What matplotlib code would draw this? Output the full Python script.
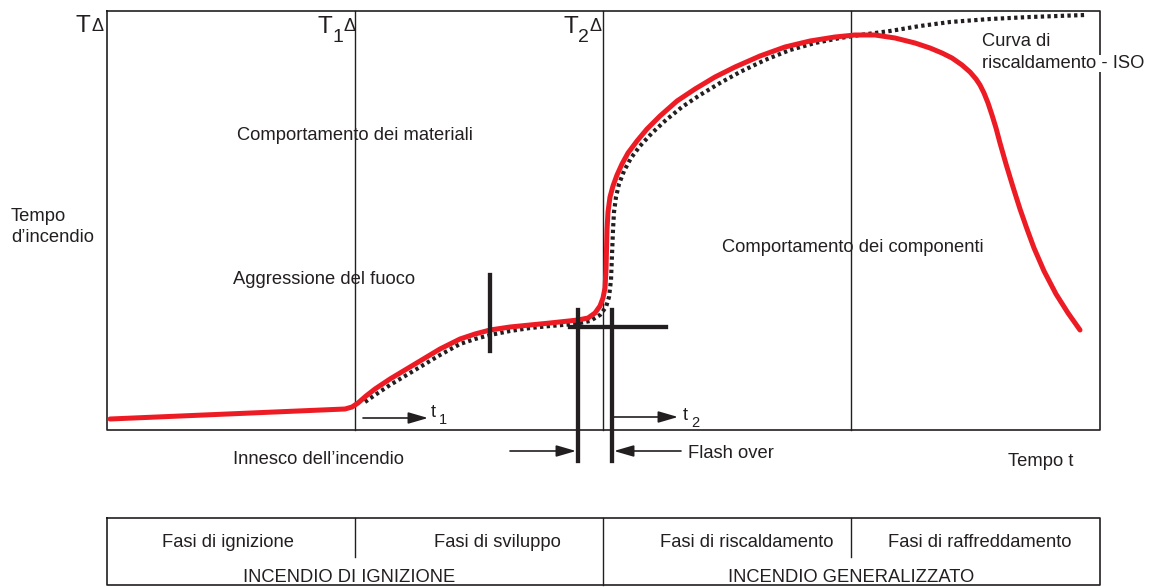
import matplotlib
matplotlib.use("Agg")
import matplotlib.pyplot as plt

# Red curve (actual fire), in picture units
red_x = [110, 345, 352, 358, 366, 375, 390, 405, 420, 440, 460, 475, 490, 510, 530, 550, 578, 588, 595,
         600, 603, 605, 606, 606.5, 607, 608, 610, 613, 617, 622, 628, 637, 647, 660, 677, 695, 715, 735,
         760, 785, 810, 835, 855, 875, 895, 915, 930, 942, 952, 962, 970, 976, 980, 984, 988, 992, 996,
         1000, 1006, 1013, 1020, 1027, 1034, 1044, 1056, 1068, 1080]
red_y = [419, 409, 407, 403, 396, 389, 379, 370, 361, 349, 339, 334, 330, 327, 325, 323, 320, 318, 313,
         306, 298, 288, 270, 250, 230, 212, 197, 186, 175, 164, 153, 141, 129, 116, 101, 89, 77, 67,
         56, 47, 41, 37, 35, 35, 38, 43, 48, 53, 58, 65, 72, 79, 85, 93, 103, 115, 128,
         143, 164, 187, 209, 229, 248, 271, 294, 313, 330]

# Dotted ISO heating curve
iso_x = [365, 375, 390, 405, 420, 440, 460, 475, 490, 510, 530, 550, 575, 590, 600, 606, 609, 611, 612,
         613, 614, 616, 619, 624, 631, 640, 652, 666, 682, 700, 720, 740, 765, 790, 815, 840, 860, 890,
         920, 950, 990, 1030, 1085]
iso_y = [402, 395, 385, 376, 367, 355, 344, 339, 335, 331, 328, 326, 324, 321, 315, 307, 297, 280, 255,
         230, 212, 197, 184, 171, 158, 146, 133, 120, 107, 95, 83, 72, 60, 50, 43, 38, 35, 31,
         26, 22, 19, 17, 15]

phase_x = [107, 355, 603, 851, 1100]
phase_labels = ["Fasi di ignizione", "Fasi di sviluppo", "Fasi di riscaldamento", "Fasi di raffreddamento"]
fire_labels = ["INCENDIO DI IGNIZIONE", "INCENDIO GENERALIZZATO"]

FAM = ['Liberation Sans', 'DejaVu Sans']
fs = 13.2
big, sub, dl = 17.5, 14, 13
plt.rcParams['font.family'] = FAM

W, H = 1153, 587
fig = plt.figure(figsize=(W / 100, H / 100), dpi=100)
ax = fig.add_axes([0, 0, 1, 1])
ax.set_xlim(0, W)
ax.set_ylim(H, 0)
ax.axis('off')

K = '#231f20'

# main box
top, bot = 11, 430
ax.plot([phase_x[0], phase_x[-1], phase_x[-1], phase_x[0], phase_x[0]], [top, top, bot, bot, top],
        color=K, lw=1.2)
for x in phase_x[1:-1]:
    ax.plot([x, x], [top, bot], color=K, lw=1.0)

# curves
ax.plot(iso_x, iso_y, color=K, lw=3.0, linestyle=(0, (0.8, 0.8)), zorder=3)
ax.plot(red_x, red_y, color='#ed1c24', lw=3.6, solid_capstyle='round', solid_joinstyle='round', zorder=4)

# thick markers
LW = 3.1
ax.plot([490, 490], [275, 351], color=K, lw=LW, zorder=5)
ax.plot([578, 578], [310, 461], color=K, lw=LW, zorder=5)
ax.plot([612, 612], [310, 461], color=K, lw=LW, zorder=5)
ax.plot([570, 666], [327, 327], color=K, lw=LW, zorder=5)

# arrows
def arrow(x0, y0, x1, y1):
    ax.annotate('', xy=(x1, y1), xytext=(x0, y0),
                arrowprops=dict(arrowstyle='-|>,head_length=1.2,head_width=0.35', color=K, lw=1.2,
                                shrinkA=0, shrinkB=0))

arrow(363, 418, 428, 418)
arrow(614, 417, 678, 417)
arrow(510, 451, 576, 451)
arrow(681, 451, 614, 451)

# axis symbols
def tx(x, y, s, size, **kw):
    ax.text(x, y, s, fontsize=size, va='baseline', ha='left', color=K, **kw)

tx(75, 32, "T", big)
tx(91, 31, "Δ", dl)
tx(317, 33, "T", big)
tx(332, 42, "1", sub)
tx(343, 31, "Δ", dl)
tx(563, 33, "T", big)
tx(578, 42, "2", sub)
tx(590, 31, "Δ", dl)

tx(431, 417, "t", fs)
tx(439, 424, "1", fs * 0.8)
tx(683, 420, "t", fs)
tx(691, 427, "2", fs * 0.8)

tx(237, 140, "Comportamento dei materiali", fs)
tx(11, 221, "Tempo", fs)
tx(11, 242, "d\u2019incendio", fs)
tx(233, 284, "Aggressione del fuoco", fs)
tx(722, 252, "Comportamento dei componenti", fs)
ax.text(982, 46, "Curva di", fontsize=fs, va='baseline', ha='left', color=K, zorder=6)
ax.text(982, 68, "riscaldamento - ISO", fontsize=fs, va='baseline', ha='left', color=K, zorder=6,
        bbox=dict(facecolor='white', edgecolor='none', pad=0.3))
tx(233, 464, "Innesco dell\u2019incendio", fs)
tx(688, 458, "Flash over", fs)
tx(1008, 466, "Tempo t", fs)

# bottom table
t_top, t_bot, t_mid = 518, 585, 557
ax.plot([phase_x[0], phase_x[-1], phase_x[-1], phase_x[0], phase_x[0]], [t_top, t_top, t_bot, t_bot, t_top],
        color=K, lw=1.2)
ax.plot([phase_x[1], phase_x[1]], [t_top, t_mid], color=K, lw=1.0)
ax.plot([phase_x[3], phase_x[3]], [t_top, t_mid], color=K, lw=1.0)
ax.plot([phase_x[2], phase_x[2]], [t_top, t_bot], color=K, lw=1.0)

for cx, lab in zip([228, 497, 747, 980], phase_labels):
    ax.text(cx, 547, lab, fontsize=fs, va='baseline', ha='center', color=K)
ax.text(349, 582, fire_labels[0], fontsize=fs, va='baseline', ha='center', color=K)
ax.text(851, 582, fire_labels[1], fontsize=fs, va='baseline', ha='center', color=K)

fig.savefig("out.png", dpi=100)
